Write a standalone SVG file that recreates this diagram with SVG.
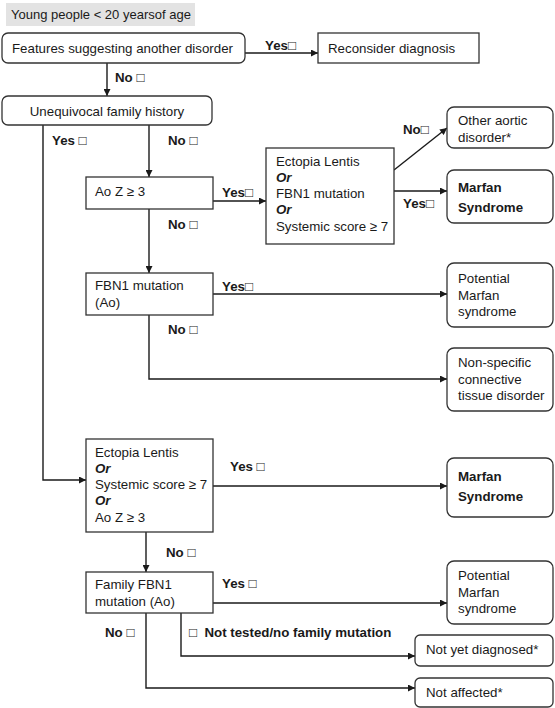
<svg xmlns="http://www.w3.org/2000/svg" width="555" height="708" viewBox="0 0 555 708">
<defs>
<marker id="ah" viewBox="0 0 10 10" refX="10" refY="5" markerWidth="8" markerHeight="7" markerUnits="userSpaceOnUse" orient="auto">
<path d="M0,0 L10,5 L0,10 z" fill="#1a1a1a"/>
</marker>
</defs>
<style>
text{font-family:"Liberation Sans",Arial,sans-serif;font-size:13.3px;fill:#1a1a1a}
.b{font-weight:bold}
.bi{font-weight:bold;font-style:italic}
.lbl{font-weight:bold;font-size:13.3px}
.box{fill:#fff;stroke:#333;stroke-width:1.3}
.c{fill:none;stroke:#1a1a1a;stroke-width:1.4}
.ca{fill:none;stroke:#1a1a1a;stroke-width:1.4;marker-end:url(#ah)}
</style>
<rect width="555" height="708" fill="#fff"/>
<g id="title">
<rect x="6" y="3" width="189" height="23" fill="#e3e3e3"/>
<text x="11" y="18.5" style="font-size:13px">Young people &lt; 20 yearsof age</text>
</g>
<g id="connectors">
<path class="ca" d="M245,53 H318"/>
<path class="ca" d="M107,63 V96"/>
<path class="ca" d="M149,125 V177"/>
<path class="ca" d="M213,201 H266"/>
<path class="ca" d="M394,170 L447,128"/>
<path class="ca" d="M394,191 H447"/>
<path class="ca" d="M149,209 V273"/>
<path class="ca" d="M213,294 H447"/>
<path class="ca" d="M149,315 V379 H447"/>
<path class="ca" d="M43,125 V480 H86"/>
<path class="ca" d="M213,486 H447"/>
<path class="ca" d="M146,532 V572"/>
<path class="ca" d="M213,603 H447"/>
<path class="ca" d="M181,613 V656 H415"/>
<path class="ca" d="M146,613 V688 H415"/>
<text class="lbl" x="265" y="50">Yes□</text>
<text class="lbl" x="115" y="82">No □</text>
<text class="lbl" x="52" y="145">Yes □</text>
<text class="lbl" x="168" y="145">No □</text>
<text class="lbl" x="222" y="197">Yes□</text>
<text class="lbl" x="403" y="134">No□</text>
<text class="lbl" x="403" y="208">Yes□</text>
<text class="lbl" x="168" y="229">No □</text>
<text class="lbl" x="222" y="291">Yes□</text>
<text class="lbl" x="168" y="334">No □</text>
<text class="lbl" x="230" y="471">Yes □</text>
<text class="lbl" x="166" y="557">No □</text>
<text class="lbl" x="222" y="588">Yes □</text>
<text class="lbl" x="189" y="637" xml:space="preserve">□  Not tested/no family mutation</text>
<text class="lbl" x="105" y="637">No □</text>
</g>
<g id="features">
<rect class="box" x="2" y="33" width="243" height="30" rx="6"/>
<text x="12" y="53">Features suggesting another disorder</text>
</g>
<g id="reconsider">
<rect class="box" x="318" y="33" width="161" height="30"/>
<text x="328" y="53">Reconsider diagnosis</text>
</g>
<g id="family-history">
<rect class="box" x="2" y="96" width="210" height="29" rx="6"/>
<text x="107" y="116" text-anchor="middle">Unequivocal family history</text>
</g>
<g id="aoz">
<rect class="box" x="86" y="177" width="127" height="32"/>
<text x="95" y="196">Ao Z ≥ 3</text>
</g>
<g id="ectopia1">
<rect class="box" x="266" y="148" width="128" height="96"/>
<text x="276" y="166">Ectopia Lentis</text>
<text class="bi" x="276" y="182">Or</text>
<text x="276" y="198">FBN1 mutation</text>
<text class="bi" x="276" y="214">Or</text>
<text x="276" y="231">Systemic score ≥ 7</text>
</g>
<g id="other-aortic">
<rect class="box" x="447" y="107" width="106" height="41" rx="7"/>
<text x="458" y="125">Other aortic</text>
<text x="458" y="142">disorder*</text>
</g>
<g id="marfan1">
<rect class="box" x="447" y="170" width="106" height="53" rx="7"/>
<text class="b" x="458" y="192">Marfan</text>
<text class="b" x="458" y="212">Syndrome</text>
</g>
<g id="fbn1">
<rect class="box" x="86" y="273" width="127" height="42"/>
<text x="95" y="290">FBN1 mutation</text>
<text x="95" y="307">(Ao)</text>
</g>
<g id="potential1">
<rect class="box" x="447" y="263" width="106" height="64" rx="7"/>
<text x="458" y="283">Potential</text>
<text x="458" y="300">Marfan</text>
<text x="458" y="316">syndrome</text>
</g>
<g id="nonspecific">
<rect class="box" x="447" y="348" width="106" height="63" rx="7"/>
<text x="458" y="367">Non-specific</text>
<text x="458" y="384">connective</text>
<text x="458" y="400">tissue disorder</text>
</g>
<g id="ectopia2">
<rect class="box" x="86" y="439" width="127" height="93"/>
<text x="95" y="457">Ectopia Lentis</text>
<text class="bi" x="95" y="473">Or</text>
<text x="95" y="489">Systemic score ≥ 7</text>
<text class="bi" x="95" y="505">Or</text>
<text x="95" y="522">Ao Z ≥ 3</text>
</g>
<g id="marfan2">
<rect class="box" x="447" y="458" width="106" height="59" rx="7"/>
<text class="b" x="458" y="481">Marfan</text>
<text class="b" x="458" y="501">Syndrome</text>
</g>
<g id="family-fbn1">
<rect class="box" x="86" y="572" width="127" height="41"/>
<text x="95" y="589">Family FBN1</text>
<text x="95" y="606">mutation (Ao)</text>
</g>
<g id="potential2">
<rect class="box" x="447" y="561" width="106" height="63" rx="7"/>
<text x="458" y="580">Potential</text>
<text x="458" y="597">Marfan</text>
<text x="458" y="613">syndrome</text>
</g>
<g id="not-yet">
<rect class="box" x="415" y="635" width="138" height="31" rx="5"/>
<text x="426" y="654">Not yet diagnosed*</text>
</g>
<g id="not-affected">
<rect class="box" x="415" y="678" width="138" height="29" rx="5"/>
<text x="426" y="697">Not affected*</text>
</g>
</svg>
